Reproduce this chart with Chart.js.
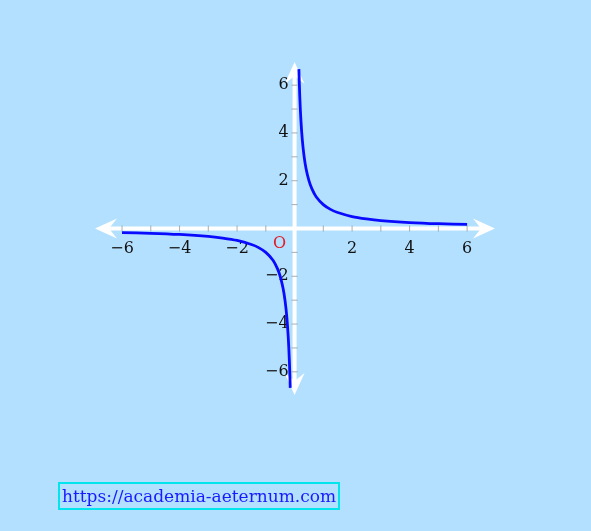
<!DOCTYPE html>
<html>
<head>
<meta charset="utf-8">
<script src="https://cdn.jsdelivr.net/npm/chart.js@4/dist/chart.umd.min.js"></script>
<style>
  html, body { margin: 0; padding: 0; background: #b3e0ff; }
  #wrap { position: relative; width: 591px; height: 531px; }
  #link { position: absolute; left: 58px; top: 482px; padding: 1px 2px; border: 2px solid #00e5ee;
          color: #1a1aff; font-family: "DejaVu Serif", serif; font-size: 17px; line-height: 22px; }
</style>
</head>
<body>
<div id="wrap">
  <canvas id="chart" width="591" height="531"></canvas>
  <div id="link">https://academia-aeternum.com</div>
</div>
<script>
// points (right branch, left branch)
const rightX = [0.15, 0.18, 0.22, 0.27, 0.33, 0.4, 0.5, 0.6, 0.75, 1, 1.25, 1.5, 2, 2.5, 3, 4, 5, 6];
const rightY = [6.67, 5.56, 4.55, 3.7, 3.03, 2.5, 2, 1.67, 1.33, 1, 0.8, 0.67, 0.5, 0.4, 0.33, 0.25, 0.2, 0.17];
const leftX = [-6, -5, -4, -3, -2.5, -2, -1.5, -1.25, -1, -0.75, -0.6, -0.5, -0.4, -0.33, -0.27, -0.22, -0.18, -0.15];
const leftY = [-0.17, -0.2, -0.25, -0.33, -0.4, -0.5, -0.67, -0.8, -1, -1.33, -1.67, -2, -2.5, -3.03, -3.7, -4.55, -5.56, -6.67];
const tickLabels = [-6, -4, -2, 2, 4, 6];
const minorTicks = [-6, -5, -4, -3, -2, -1, 1, 2, 3, 4, 5, 6];

const toPts = (xs, ys) => xs.map((x, i) => ({ x: x, y: ys[i] }));

const axesPlugin = {
  id: "axes",
  beforeDatasetsDraw(chart) {
    const { ctx, scales: { x, y } } = chart;
    const x0 = x.getPixelForValue(0), y0 = y.getPixelForValue(0);
    const l = x.left, r = x.right, t = y.top, b = y.bottom;
    ctx.save();
    ctx.strokeStyle = "#ffffff";
    ctx.fillStyle = "#ffffff";
    ctx.lineWidth = 4;
    ctx.beginPath();
    ctx.moveTo(l + 10, y0); ctx.lineTo(r - 10, y0);
    ctx.moveTo(x0, t + 10); ctx.lineTo(x0, b - 10);
    ctx.stroke();
    // arrowheads
    const head = (tx, ty, dx, dy) => {
      const px = -dy, py = dx;
      ctx.beginPath();
      ctx.moveTo(tx, ty);
      ctx.lineTo(tx - dx * 22 + px * 10, ty - dy * 22 + py * 10);
      ctx.lineTo(tx - dx * 14, ty - dy * 14);
      ctx.lineTo(tx - dx * 22 - px * 10, ty - dy * 22 - py * 10);
      ctx.closePath();
      ctx.fill();
    };
    head(r, y0, 1, 0); head(l, y0, -1, 0);
    head(x0, t, 0, -1); head(x0, b, 0, 1);
    // small ticks
    ctx.strokeStyle = "#999999";
    ctx.lineWidth = 0.8;
    ctx.beginPath();
    minorTicks.forEach(v => {
      const px = x.getPixelForValue(v), py = y.getPixelForValue(v);
      ctx.moveTo(px, y0 - 3); ctx.lineTo(px, y0 + 3);
      ctx.moveTo(x0 - 3, py); ctx.lineTo(x0 + 3, py);
    });
    ctx.stroke();
    // labels
    ctx.fillStyle = "#111111";
    ctx.font = "16px 'DejaVu Serif', serif";
    ctx.textAlign = "center"; ctx.textBaseline = "top";
    tickLabels.forEach(v => {
      ctx.fillText(String(v).replace("-", "\u2212"), x.getPixelForValue(v), y0 + 12);
    });
    ctx.textAlign = "right"; ctx.textBaseline = "middle";
    tickLabels.forEach(v => {
      ctx.fillText(String(v).replace("-", "\u2212"), x0 - 6, y.getPixelForValue(v));
    });
    ctx.fillStyle = "#e0202a";
    ctx.textAlign = "center";
    ctx.fillText("O", x0 - 15, y0 + 15);
    ctx.restore();
  }
};

const line = (data) => ({
  data: data, showLine: true, borderColor: "#0a0aff", borderWidth: 2.8,
  pointRadius: 0, tension: 0.3, fill: false
});

new Chart(document.getElementById("chart").getContext("2d"), {
  type: "scatter",
  data: { datasets: [line(toPts(rightX, rightY)), line(toPts(leftX, leftY))] },
  plugins: [axesPlugin],
  options: {
    responsive: false,
    animation: false,
    layout: { padding: { left: 95, right: 96, top: 62, bottom: 136 } },
    plugins: { legend: { display: false }, tooltip: { enabled: false } },
    scales: {
      x: { type: "linear", min: -6.94, max: 6.97, display: false },
      y: { type: "linear", min: -6.97, max: 6.97, display: false }
    }
  }
});
</script>
</body>
</html>
